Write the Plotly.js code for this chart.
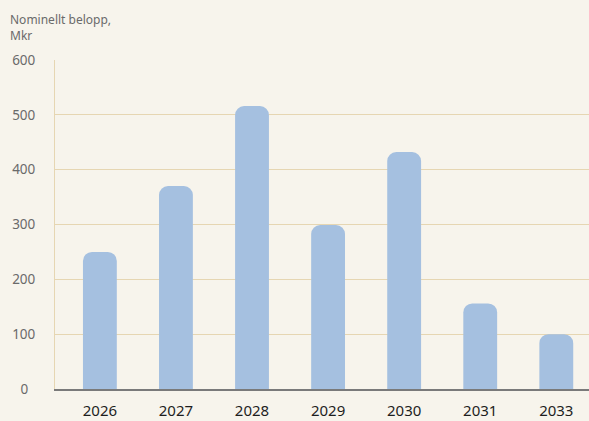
<!DOCTYPE html>
<html><head><meta charset="utf-8">
<script src="https://cdn.plot.ly/plotly-3.0.1.min.js"></script>
<style>html,body{margin:0;padding:0;background:#f7f4ec;}</style>
</head><body><div id="chart" style="width:589px;height:421px;"></div>
<script>
const years = ["2026","2027","2028","2029","2030","2031","2033"];
const values = [250, 370, 516, 299, 432, 156, 100];
const yTickVals = [0,100,200,300,400,500,600];
const yTickText = ["0\u00a0\u00a0","100","200","300","400","500","600"];

const trace = {
  type: "bar", x: years, y: values,
  width: 0.445,
  marker: {color: "#a5c0e0", cornerradius: 9},
  hoverinfo: "skip"
};
const layout = {
  width: 589, height: 421,
  paper_bgcolor: "#f7f4ec", plot_bgcolor: "#f7f4ec",
  margin: {l: 55, r: 0, t: 60, b: 32},
  showlegend: false,
  font: {family: "Noto Sans, sans-serif"},
  annotations: [{
    text: "Nominellt belopp,<br>Mkr",
    xref: "paper", x: (8-55)/534, xanchor: "left",
    yref: "paper", y: 1 + (60-9)/329, yanchor: "top",
    align: "left", showarrow: false,
    font: {size: 12, color: "#6a6a6a"}
  }],
  xaxis: {
    type: "category", range: [-0.59, 6.43],
    showgrid: false, showline: true, linecolor: "#7a7a7a", linewidth: 2,
    ticks: "", ticklabelstandoff: 7,
    tickfont: {size: 15, color: "#1e1e1e"}
  },
  yaxis: {
    range: [0, 600], tickvals: yTickVals, ticktext: yTickText,
    showgrid: true, gridcolor: "#e6d6b2", gridwidth: 1,
    showline: true, linecolor: "#e6d6b2", linewidth: 1,
    zeroline: false, ticks: "", ticklabelstandoff: 16,
    tickfont: {size: 13.5, color: "#6a6a6a"}
  }
};
Plotly.newPlot("chart", [trace], layout, {displayModeBar: false, staticPlot: true});
</script></body></html>
